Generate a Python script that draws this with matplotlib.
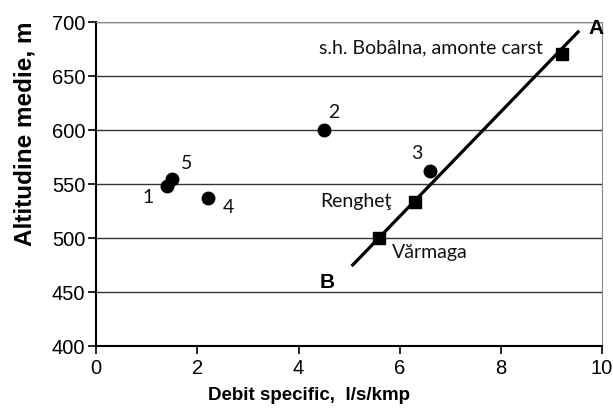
import matplotlib
matplotlib.use("Agg")
import matplotlib.pyplot as plt

# puncte numerotate (cercuri)
pt_labels = ["1", "2", "3", "4", "5"]
pt_x = [1.4, 4.5, 6.6, 2.2, 1.5]
pt_y = [548, 600, 562, 537, 555]

# statii hidrometrice (patrate)
st_names = ["Vărmaga", "Rengheţ", "s.h. Bobâlna, amonte carst"]
st_x = [5.6, 6.3, 9.2]
st_y = [500, 533, 670]

# dreapta B-A
line_x = [5.05, 9.55]
line_y = [474, 692]

fig = plt.figure(figsize=(6.13, 4.09), dpi=100)
ax = fig.add_axes([0.157, 0.154, 0.825, 0.792])

ax.plot(line_x, line_y, color="black", lw=2.3, solid_capstyle="butt", zorder=3)
ax.plot(st_x, st_y, "s", color="black", ms=8, zorder=4)
ax.plot(pt_x, pt_y, "o", color="black", ms=9, zorder=4)

ax.set_xlim(0, 10)
ax.set_ylim(400, 700)
ax.set_xticks(range(0, 11, 2))
ax.set_yticks(range(400, 701, 50))
ax.yaxis.grid(True, color="#333333", lw=1)
ax.set_axisbelow(True)
for s in ["top", "right"]:
    ax.spines[s].set_color("#888888")
    ax.spines[s].set_linewidth(0.8)
for s in ["left", "bottom"]:
    ax.spines[s].set_linewidth(1.5)
ax.tick_params(direction="out", length=6, width=1.2, labelsize=14.5)
ax.tick_params(axis="y", pad=2)
for t in ax.get_xticklabels() + ax.get_yticklabels():
    t.set_fontfamily("Liberation Sans")

ax.set_xlabel("Debit specific,  l/s/kmp", fontsize=13.5, fontweight="bold",
              family="Liberation Sans")
ax.set_ylabel("Altitudine medie, m", fontsize=17.5, fontweight="bold",
              family="Liberation Sans")
ax.xaxis.set_label_coords(0.42, -0.125)
ax.yaxis.set_label_coords(-0.118, 0.654)

lab_font = dict(fontsize=14, family="Lato", color="#111111")
# pozitii etichete
offs = {"1": (1.03, 538), "2": (4.7, 616), "3": (6.33, 578), "4": (2.61, 528), "5": (1.79, 569)}
for l in pt_labels:
    ax.text(offs[l][0], offs[l][1], l, ha="center", va="center", **lab_font)

ax.text(5.14, 534, st_names[1], ha="center", va="center", **lab_font)
ax.text(5.85, 487, st_names[0], ha="left", va="center", **lab_font)
ax.text(8.83, 676, st_names[2], ha="right", va="center", **lab_font)

ax.text(9.88, 694, "A", ha="center", va="center", fontsize=15, fontweight="bold",
        family="Liberation Sans", clip_on=False)
ax.text(4.56, 459, "B", ha="center", va="center", fontsize=15, fontweight="bold",
        family="Liberation Sans")

fig.savefig("out.png", dpi=100)
